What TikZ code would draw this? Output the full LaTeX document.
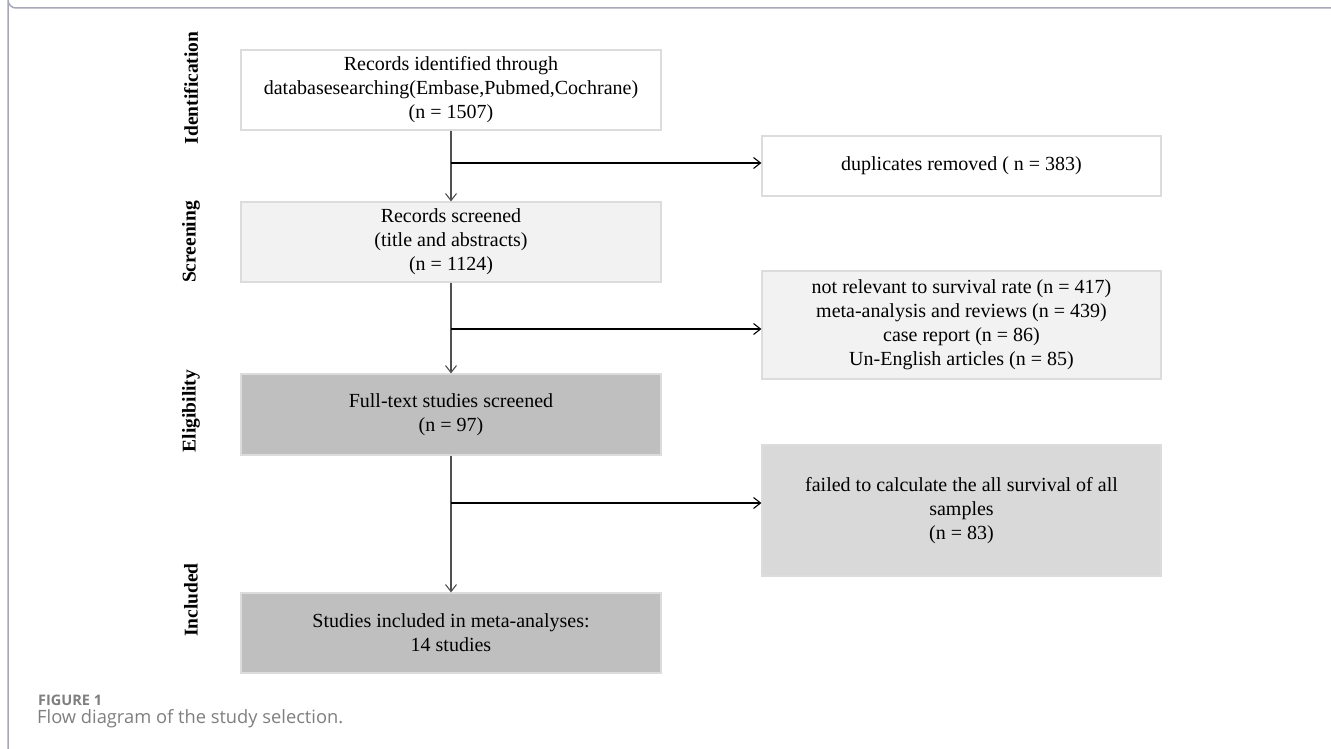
\documentclass[tikz,border=0pt]{standalone}
\usepackage{fontspec}
\setmainfont{Liberation Serif}
\newfontfamily\capfont{Open Sans}
\usetikzlibrary{arrows.meta}
\definecolor{frameC}{HTML}{A7A9B8}
\definecolor{borderC}{HTML}{DCDCDC}
\definecolor{lightF}{HTML}{F2F2F2}
\definecolor{midF}{HTML}{D9D9D9}
\definecolor{darkF}{HTML}{BFBFBF}
\definecolor{capC}{HTML}{7F7F7F}
\definecolor{vlineC}{HTML}{505050}
\tikzset{
  box/.style={draw=borderC, line width=1.2pt, align=center, inner sep=0pt,
    font=\fontsize{20}{24}\selectfont},
  phase/.style={rotate=90, font=\fontsize{19.5}{22}\selectfont\bfseries},
  mainarrow/.style={draw=vlineC, line width=1.3pt, -{Straight Barb[length=7pt,width=11pt,line width=1.1pt]}},
  sidearrow/.style={draw=black, line width=1.1pt, -{Straight Barb[length=7pt,width=11pt,line width=1.1pt]}},
}
\begin{document}
\begin{tikzpicture}[x=1pt,y=-1pt]
\useasboundingbox (0,0) rectangle (1331,749);
\fill[white] (0,0) rectangle (1331,749);
% frame
\draw[frameC, line width=1.5pt] (1331,8) -- (16,8) arc[start angle=90,end angle=180,radius=8] -- (8,749);
% phase labels
\node[phase] (pI) at (191,88) {Identification};
\node[phase] (pS) at (191,242) {Screening};
\node[phase] (pE) at (191,411) {Eligibility};
\node[phase] (pN) at (191,600) {Included};
% main boxes
\node[box, fill=white, minimum width=420pt, minimum height=80pt] (b1) at (451,90)
  {Records identified through\\databasesearching(Embase,Pubmed,Cochrane)\\(n = 1507)};
\node[box, fill=lightF, minimum width=420pt, minimum height=80pt] (b2) at (451,242)
  {Records screened\\(title and abstracts)\\(n = 1124)};
\node[box, fill=darkF, minimum width=420pt, minimum height=81pt] (b3) at (451,414.5)
  {Full-text studies screened\\(n = 97)};
\node[box, fill=darkF, minimum width=420pt, minimum height=80pt] (b4) at (451,633)
  {Studies included in meta-analyses:\\14 studies};
% side boxes
\node[box, fill=white, minimum width=399pt, minimum height=60pt] (d1) at (961.5,166)
  {duplicates removed ( n = 383)};
\node[box, fill=lightF, minimum width=399pt, minimum height=108pt] (d2) at (961.5,325)
  {not relevant to survival rate (n = 417)\\meta-analysis and reviews (n = 439)\\case report (n = 86)\\Un-English articles (n = 85)};
\node[box, fill=midF, minimum width=399pt, minimum height=131pt] (d3) at (961.5,510.5)
  {failed to calculate the all survival of all\\samples\\(n = 83)};
% junctions
\coordinate (j1) at (451,163);
\coordinate (j2) at (451,329);
\coordinate (j3) at (451,503);
% connectors
\draw[mainarrow] (b1.south) -- (b2.north);
\draw[mainarrow] (b2.south) -- (b3.north);
\draw[mainarrow] (b3.south) -- (b4.north);
\draw[sidearrow] (j1) -- (j1 -| d1.west);
\draw[sidearrow] (j2) -- (j2 -| d2.west);
\draw[sidearrow] (j3) -- (j3 -| d3.west);
% caption
\node[anchor=base west, inner sep=0pt, text=capC, font=\capfont\bfseries\fontsize{14.5}{16}\selectfont] (cap1) at (38,705.5) {FIGURE 1};
\node[anchor=base west, inner sep=0pt, text=capC, font=\capfont\fontsize{18.3}{20}\selectfont] (cap2) at (37,723.5) {Flow diagram of the study selection.};
\end{tikzpicture}
\end{document}
